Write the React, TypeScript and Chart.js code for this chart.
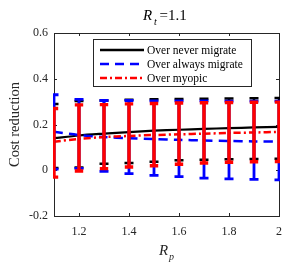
import React, { useEffect, useRef } from "react";
import { Chart, registerables } from "chart.js";

Chart.register(...registerables);

const xValues = [1.1, 1.2, 1.3, 1.4, 1.5, 1.6, 1.7, 1.8, 1.9, 2.0];
const xTicks = [1.2, 1.4, 1.6, 1.8, 2.0];
const yTicks = [-0.2, 0, 0.2, 0.4, 0.6];

const neverMean = [0.14, 0.152, 0.16, 0.167, 0.173, 0.177, 0.181, 0.184, 0.187, 0.19];
const neverLow = [0.01, 0.012, 0.028, 0.032, 0.037, 0.044, 0.046, 0.048, 0.049, 0.05];
const neverHigh = [0.29, 0.303, 0.305, 0.308, 0.31, 0.312, 0.313, 0.314, 0.315, 0.316];

const alwaysMean = [0.168, 0.154, 0.145, 0.14, 0.136, 0.133, 0.13, 0.128, 0.126, 0.125];
const alwaysLow = [0.005, 0.008, -0.005, -0.015, -0.022, -0.028, -0.034, -0.038, -0.04, -0.042];
const alwaysHigh = [0.33, 0.31, 0.305, 0.305, 0.303, 0.303, 0.303, 0.302, 0.302, 0.302];

const myopicMean = [0.125, 0.137, 0.145, 0.15, 0.154, 0.157, 0.16, 0.163, 0.165, 0.168];
const myopicLow = [-0.03, -0.003, 0.007, 0.014, 0.02, 0.026, 0.032, 0.035, 0.037, 0.038];
const myopicHigh = [0.27, 0.286, 0.287, 0.29, 0.292, 0.294, 0.295, 0.296, 0.297, 0.298];

const seriesLabels = ["Over never migrate", "Over always migrate", "Over myopic"];
const seriesColors = ["#000000", "#0000ff", "#ff0000"];
const seriesDash = [[], [9, 6], [7, 3, 2, 3]];
const lows = [neverLow, alwaysLow, myopicLow];
const highs = [neverHigh, alwaysHigh, myopicHigh];
const barWidths = [2.5, 2.8, 3.4];
const capHalves = [4.5, 4.5, 4.2];

const SERIF = '"Liberation Serif", "Times New Roman", serif';
const AXIS_COLOR = "#262626";

export default function App() {
  const ref = useRef<HTMLCanvasElement | null>(null);

  useEffect(() => {
    document.body.style.margin = "0";
    const canvas = ref.current!;

    const errorBars = {
      id: "errorBars",
      afterDatasetsDraw(chart: any) {
        const ctx = chart.ctx;
        const xs = chart.scales.x;
        const ys = chart.scales.y;
        const a = chart.chartArea;
        ctx.save();
        ctx.beginPath();
        ctx.rect(a.left - 1, a.top, a.right - a.left + 2, a.bottom - a.top);
        ctx.clip();
        [0, 1, 2].forEach((i) => {
          ctx.strokeStyle = seriesColors[i];
          ctx.lineWidth = barWidths[i];
          ctx.setLineDash([]);
          const capHalf = capHalves[i];
          xValues.forEach((xv, k) => {
            const px = xs.getPixelForValue(xv);
            const lo = ys.getPixelForValue(lows[i][k]);
            const hi = ys.getPixelForValue(highs[i][k]);
            ctx.beginPath();
            ctx.moveTo(px, lo);
            ctx.lineTo(px, hi);
            ctx.moveTo(px - capHalf, lo);
            ctx.lineTo(px + capHalf, lo);
            ctx.moveTo(px - capHalf, hi);
            ctx.lineTo(px + capHalf, hi);
            ctx.stroke();
          });
        });
        ctx.restore();
      },
    };

    const frame = {
      id: "frame",
      beforeDatasetsDraw(chart: any) {
        const ctx = chart.ctx;
        const a = chart.chartArea;
        const xs = chart.scales.x;
        const ys = chart.scales.y;
        ctx.save();
        ctx.strokeStyle = AXIS_COLOR;
        ctx.lineWidth = 1;
        ctx.strokeRect(Math.round(a.left) + 0.5, Math.round(a.top) + 0.5, Math.round(a.right - a.left), Math.round(a.bottom - a.top));
        ctx.beginPath();
        xTicks.forEach((t) => {
          const px = Math.round(xs.getPixelForValue(t)) + 0.5;
          ctx.moveTo(px, a.bottom);
          ctx.lineTo(px, a.bottom - 3);
          ctx.moveTo(px, a.top);
          ctx.lineTo(px, a.top + 3);
        });
        yTicks.forEach((t) => {
          const py = Math.round(ys.getPixelForValue(t)) + 0.5;
          ctx.moveTo(a.left, py);
          ctx.lineTo(a.left + 3, py);
          ctx.moveTo(a.right, py);
          ctx.lineTo(a.right - 3, py);
        });
        ctx.stroke();
        ctx.restore();
      },
      afterDraw(chart: any) {
        const ctx = chart.ctx;
        const a = chart.chartArea;
        ctx.save();
        // Title R_t=1.1
        ctx.fillStyle = "#000";
        ctx.textBaseline = "alphabetic";
        const big = `italic 15px ${SERIF}`;
        const sub = `italic 10px ${SERIF}`;
        const norm = `15px ${SERIF}`;
        ctx.textAlign = "left";
        ctx.font = big;
        ctx.fillText("R", 143, 20);
        ctx.font = sub;
        ctx.fillText("t", 154, 25);
        ctx.font = norm;
        ctx.fillText("=1.1", 159.5, 20);

        // X label R_p
        ctx.fillStyle = AXIS_COLOR;
        ctx.font = big;
        const cx = (a.left + a.right) / 2;
        const wR2 = ctx.measureText("R").width;
        ctx.fillText("R", cx - wR2 / 2 - 3, 255);
        ctx.font = sub;
        ctx.fillText("p", cx + wR2 / 2 - 2, 260);

        // Y label
        ctx.save();
        ctx.translate(15, (a.top + a.bottom) / 2);
        ctx.rotate(-Math.PI / 2);
        ctx.textAlign = "center";
        ctx.textBaseline = "middle";
        ctx.font = `14.5px ${SERIF}`;
        ctx.fillStyle = AXIS_COLOR;
        ctx.fillText("Cost reduction", 0, 0);
        ctx.restore();

        // Legend
        const lx = 93.5, ly = 39.5, lw = 158, lh = 47;
        ctx.fillStyle = "#fff";
        ctx.fillRect(lx, ly, lw, lh);
        ctx.strokeStyle = AXIS_COLOR;
        ctx.lineWidth = 1;
        ctx.setLineDash([]);
        ctx.strokeRect(lx, ly, lw, lh);
        const rows = [50, 64, 78];
        ctx.font = `11.5px ${SERIF}`;
        ctx.textBaseline = "middle";
        ctx.textAlign = "left";
        seriesLabels.forEach((lab, i) => {
          ctx.strokeStyle = seriesColors[i];
          ctx.lineWidth = 2.5;
          ctx.setLineDash(seriesDash[i]);
          ctx.beginPath();
          ctx.moveTo(100, rows[i]);
          ctx.lineTo(144, rows[i]);
          ctx.stroke();
          ctx.setLineDash([]);
          ctx.fillStyle = "#000";
          ctx.fillText(lab, 147, rows[i] + 0.5);
        });
        ctx.restore();
      },
    };

    const chart = new Chart(canvas, {
      type: "line",
      data: {
        datasets: [0, 1, 2].map((i) => ({
          label: seriesLabels[i],
          data: xValues.map((x, k) => ({ x, y: [neverMean, alwaysMean, myopicMean][i][k] })),
          borderColor: seriesColors[i],
          backgroundColor: seriesColors[i],
          borderWidth: i === 0 ? 2.2 : 2.5,
          borderDash: seriesDash[i],
          pointRadius: 0,
          tension: 0.3,
          fill: false,
          order: 3 - i,
        })),
      },
      options: {
        responsive: false,
        animation: false,
        devicePixelRatio: 1,
        layout: { padding: { top: 33, right: 8, left: 0, bottom: 0 } },
        plugins: {
          legend: { display: false },
          title: { display: false },
          tooltip: { enabled: false },
        },
        scales: {
          x: {
            type: "linear",
            min: 1.1,
            max: 2.0,
            afterBuildTicks: (s: any) => {
              s.ticks = xTicks.map((v) => ({ value: v }));
            },
            afterFit: (s: any) => {
              s.height = 54;
            },
            grid: { display: false, drawTicks: false },
            border: { display: false },
            ticks: {
              padding: 9,
              color: AXIS_COLOR,
              font: { family: SERIF, size: 12 },
              maxRotation: 0,
              callback: (v: any) => String(Math.round(Number(v) * 10) / 10),
            },
          },
          y: {
            type: "linear",
            min: -0.2,
            max: 0.6,
            afterBuildTicks: (s: any) => {
              s.ticks = yTicks.map((v) => ({ value: v }));
            },
            afterFit: (s: any) => {
              s.width = 54;
            },
            grid: { display: false, drawTicks: false },
            border: { display: false },
            title: { display: false },
            ticks: {
              padding: 6,
              color: AXIS_COLOR,
              font: { family: SERIF, size: 12 },
              callback: (v: any) => {
                const n = Math.round(Number(v) * 10) / 10;
                return n === 0 ? "0" : String(n);
              },
            },
          },
        },
      },
      plugins: [frame, errorBars],
    } as any);

    return () => chart.destroy();
  }, []);

  return <canvas ref={ref} width={291} height={270} style={{ display: "block", width: 291, height: 270 }} />;
}
